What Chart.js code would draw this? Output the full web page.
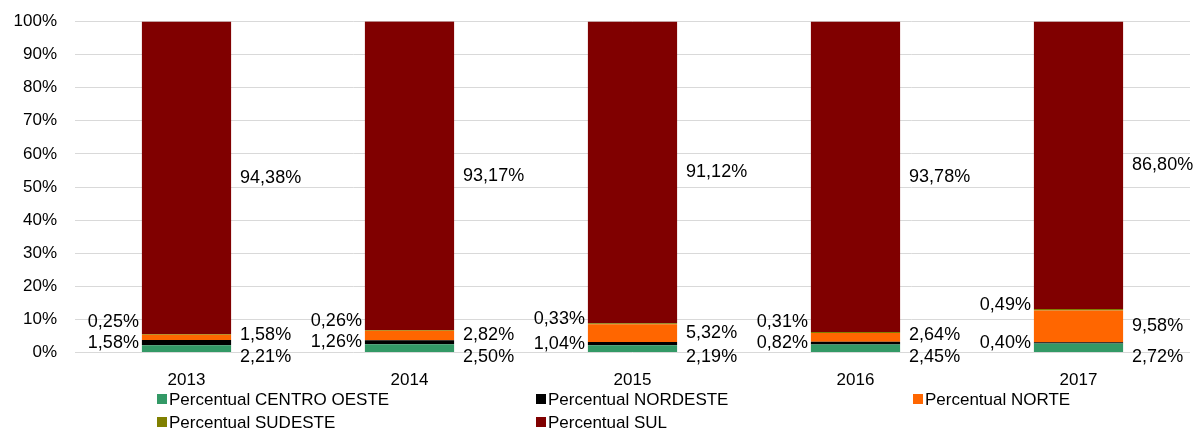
<!DOCTYPE html>
<html>
<head>
<meta charset="utf-8">
<script src="https://cdn.jsdelivr.net/npm/chart.js@4.4.0/dist/chart.umd.min.js"></script>
<style>
  html, body { margin: 0; padding: 0; background: #fff; }
  #wrap { width: 1198px; height: 430px; position: relative; }
</style>
</head>
<body>
<div id="wrap"><canvas id="chart"></canvas></div>
<script>
// anos e percentuais por região
const years = ['2013', '2014', '2015', '2016', '2017'];
const centroOeste = [2.21, 2.50, 2.19, 2.45, 2.72];
const nordeste = [1.58, 1.26, 1.04, 0.82, 0.40];
const norte = [1.58, 2.82, 5.32, 2.64, 9.58];
const sudeste = [0.25, 0.26, 0.33, 0.31, 0.49];
const sul = [94.38, 93.17, 91.12, 93.78, 86.80];
const yTicks = [0, 10, 20, 30, 40, 50, 60, 70, 80, 90, 100];

const FONT = 'Liberation Sans, Arial, sans-serif';
const FONT_SIZE = 17;
const LABEL_SIZE = 18;

const fmt = function(v) {
  return v.toFixed(2).replace('.', ',') + '%';
};

// label placement: which side of the bar each series goes on
const labelSide = ['right', 'left', 'right', 'left', 'right'];

const valueLabels = {
  id: 'valueLabels',
  afterDatasetsDraw: function(chart) {
    const ctx = chart.ctx;
    const zeroY = chart.scales.y.getPixelForValue(0);
    ctx.save();
    ctx.font = LABEL_SIZE + 'px ' + FONT;
    ctx.fillStyle = '#000';
    ctx.textBaseline = 'middle';

    years.forEach(function(yr, j) {
      const bars = chart.data.datasets.map(function(ds, i) {
        return chart.getDatasetMeta(i).data[j];
      });
      const mid = bars.map(function(b) { return (b.y + b.base) / 2; });
      const left = bars[0].x - bars[0].width / 2;
      const right = bars[0].x + bars[0].width / 2;

      // nudge the small stacked labels apart so they don't overlap
      const ys = mid.slice();
      ys[0] = Math.max(mid[0], zeroY + 4);
      ys[2] = Math.min(mid[2], ys[0] - 22);
      ys[3] = Math.min(mid[3] - 5, ys[1] - 21);

      chart.data.datasets.forEach(function(ds, i) {
        const txt = fmt(ds.data[j]);
        if (labelSide[i] === 'left') {
          ctx.textAlign = 'right';
          ctx.fillText(txt, left - 3, ys[i]);
        } else {
          ctx.textAlign = 'left';
          ctx.fillText(txt, right + 9, ys[i]);
        }
      });
    });
    ctx.restore();
  }
};

// legend in three columns under the axis
const columnLegend = {
  id: 'columnLegend',
  afterDraw: function(chart) {
    const ctx = chart.ctx;
    const cols = [157, 536, 913];
    const rows = [399, 422];
    ctx.save();
    ctx.font = FONT_SIZE + 'px ' + FONT;
    ctx.textBaseline = 'middle';
    ctx.textAlign = 'left';
    chart.data.datasets.forEach(function(ds, i) {
      const x = cols[i % 3];
      const y = rows[Math.floor(i / 3)];
      ctx.fillStyle = ds.backgroundColor;
      ctx.fillRect(x, y - 5, 10, 10);
      ctx.fillStyle = '#000';
      ctx.fillText(ds.label, x + 12, y + 1);
    });
    ctx.restore();
  }
};

const makeSet = function(label, data, color) {
  return {
    label: label,
    data: data,
    backgroundColor: color,
    borderWidth: 0,
    categoryPercentage: 1.0,
    barPercentage: 0.4
  };
};

new Chart(document.getElementById('chart'), {
  type: 'bar',
  data: {
    labels: years,
    datasets: [
      makeSet('Percentual CENTRO OESTE', centroOeste, '#339966'),
      makeSet('Percentual NORDESTE', nordeste, '#000000'),
      makeSet('Percentual NORTE', norte, '#ff6600'),
      makeSet('Percentual SUDESTE', sudeste, '#808000'),
      makeSet('Percentual SUL', sul, '#800000')
    ]
  },
  options: {
    responsive: true,
    maintainAspectRatio: false,
    animation: false,
    layout: {
      padding: { left: 0, right: 8, top: 19, bottom: 21 }
    },
    plugins: {
      legend: { display: false },
      tooltip: { enabled: false }
    },
    scales: {
      x: {
        stacked: true,
        grid: { display: false, drawTicks: false },
        border: { display: false },
        ticks: {
          color: '#000',
          padding: 18,
          font: { family: FONT, size: FONT_SIZE }
        }
      },
      y: {
        stacked: true,
        min: 0,
        max: 100,
        afterBuildTicks: function(axis) {
          axis.ticks = yTicks.map(function(v) { return { value: v }; });
        },
        afterFit: function(axis) {
          axis.width = 75;
        },
        grid: { color: '#d9d9d9', lineWidth: 1, drawTicks: false },
        border: { display: false },
        ticks: {
          color: '#000',
          padding: 18,
          font: { family: FONT, size: FONT_SIZE, lineHeight: 0.4 },
          callback: function(v) { return v + '%'; }
        }
      }
    }
  },
  plugins: [valueLabels, columnLegend]
});
</script>
</body>
</html>
